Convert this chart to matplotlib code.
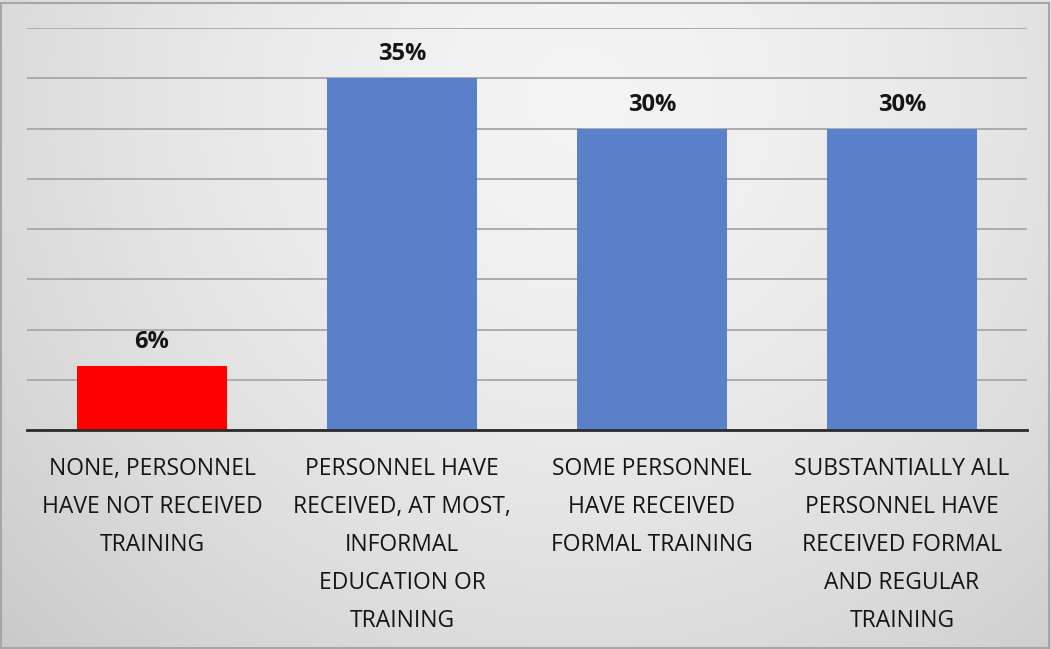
import numpy as np
import matplotlib
matplotlib.use("Agg")
import matplotlib.pyplot as plt
from matplotlib.patches import Rectangle

categories = [
    "NONE, PERSONNEL\nHAVE NOT RECEIVED\nTRAINING",
    "PERSONNEL HAVE\nRECEIVED, AT MOST,\nINFORMAL\nEDUCATION OR\nTRAINING",
    "SOME PERSONNEL\nHAVE RECEIVED\nFORMAL TRAINING",
    "SUBSTANTIALLY ALL\nPERSONNEL HAVE\nRECEIVED FORMAL\nAND REGULAR\nTRAINING",
]
values = [6.4, 35, 30, 30]
labels = ["6%", "35%", "30%", "30%"]
colors = ["#ff0000", "#5a80c9", "#5a80c9", "#5a80c9"]

W, H = 1051, 649
fig = plt.figure(figsize=(W / 100, H / 100), dpi=100)

# background gradient
bg = fig.add_axes([0, 0, 1, 1])
yy, xx = np.mgrid[0:1:300j, 0:1:500j]
d = np.sqrt(((xx - 0.55) / 0.75) ** 2 + ((yy - 0.15) / 1.2) ** 2)
g = 0.955 - 0.16 * np.clip(d, 0, 1.2) ** 1.6
img = np.dstack([g, g, g])
bg.imshow(img, extent=[0, 1, 0, 1], origin="upper", aspect="auto")
bg.add_patch(Rectangle((0.001, 0.002), 0.997, 0.993, fill=False, ec="#a6a6a6", lw=1.5,
                       transform=bg.transAxes))
bg.set_xlim(0, 1)
bg.set_ylim(0, 1)
bg.axis("off")

ax = fig.add_axes([27 / W, 1 - 430 / H, 1000 / W, 402 / H])
ax.patch.set_alpha(0)
x = np.arange(len(categories))
bars = ax.bar(x, values, width=0.6, color=colors, zorder=2)
ax.set_xlim(-0.5, len(categories) - 0.5)
ax.set_ylim(0, 40)
ax.set_yticks(np.arange(0, 41, 5))
ax.yaxis.grid(True, color="#ababab", lw=1.4, zorder=1)
ax.set_axisbelow(True)
for s in ["top", "right", "left"]:
    ax.spines[s].set_visible(False)
ax.spines["bottom"].set_color("#2b2b2b")
ax.spines["bottom"].set_linewidth(2)
ax.spines["bottom"].set_zorder(3)
ax.tick_params(axis="y", left=False, labelleft=False)
ax.tick_params(axis="x", bottom=False)
ax.set_xticks(x)
ax.set_xticklabels(categories, fontsize=16.5, family="Open Sans", color="#151515",
                   linespacing=1.77)
ax.tick_params(axis="x", pad=16)

for xi, v, lab in zip(x, values, labels):
    ax.annotate(lab, (xi, v), xytext=(0, 8.5), textcoords="offset points",
                ha="center", va="bottom", fontsize=17, fontweight="bold",
                family="Open Sans", color="#151515")

fig.savefig("out.png", dpi=100)
